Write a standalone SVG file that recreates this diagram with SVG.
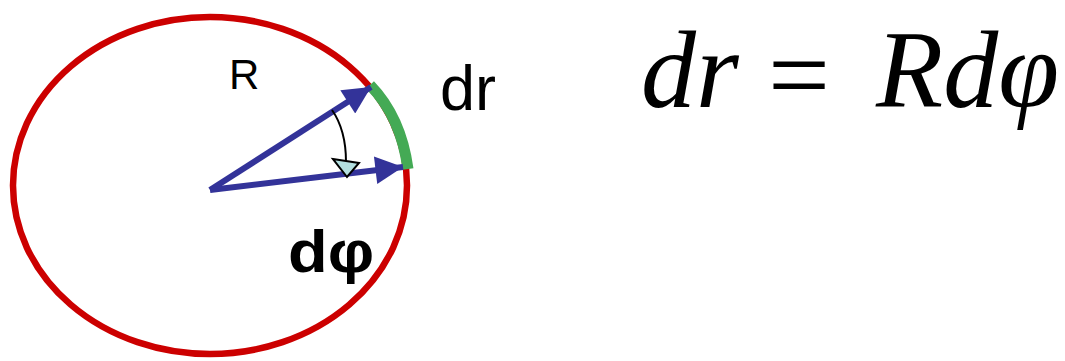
<svg xmlns="http://www.w3.org/2000/svg" width="1065" height="361" viewBox="0 0 1065 361">
<style>
.lbl{font-family:"Liberation Sans",Arial,sans-serif;fill:#000}
.eq{font-family:"Liberation Serif","Times New Roman",serif;font-size:110px;fill:#000}
.it{font-style:italic}
.vec{stroke:#333399;stroke-width:6;fill:none}
</style>
<defs>
<marker id="ah" viewBox="0 0 10 10" refX="10" refY="5" markerWidth="5.5" markerHeight="4.6" markerUnits="strokeWidth" orient="auto">
<path d="M0,0 L10,5 L0,10 z" fill="#333399"/>
</marker>
</defs>
<rect width="1065" height="361" fill="#fff"/>
<g id="circle">
<ellipse cx="210" cy="185.5" rx="197" ry="168.5" fill="none" stroke="#CC0000" stroke-width="6.5"/>
</g>
<g id="arc-dr">
<path d="M370,85 Q401,117 408,169" fill="none" stroke="#44AA55" stroke-width="11"/>
</g>
<g id="connectors">
<line class="vec" x1="210" y1="190" x2="371" y2="87" marker-end="url(#ah)"/>
<line class="vec" x1="210" y1="190" x2="403" y2="167" marker-end="url(#ah)"/>
<path d="M332,110 Q346,130 346,162" fill="none" stroke="#000" stroke-width="2"/>
<polygon points="333,159 359,163 347,177" fill="#B3E0E0" stroke="#000" stroke-width="2"/>
</g>
<g id="labels">
<text class="lbl" x="229" y="89" font-size="42">R</text>
<text class="lbl" x="440" y="110" font-size="63">dr</text>
<text class="lbl" transform="translate(288,272) scale(1.1,1)" x="0" y="0" font-size="59" font-weight="bold">dφ</text>
</g>
<g id="equation">
<text class="eq it" x="641" y="107">dr</text>
<text class="eq" x="768" y="112" font-size="116">=</text>
<text class="eq it" x="876" y="107">Rdφ</text>
</g>
</svg>
